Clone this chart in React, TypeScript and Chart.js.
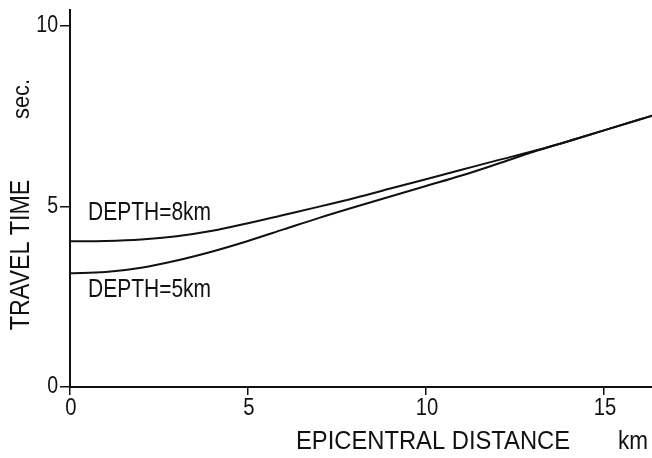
import React, { useEffect, useRef } from "react";
import { Chart, registerables } from "chart.js";

Chart.register(...registerables);

const distances = [0, 1, 2, 3, 4, 5, 6, 7, 8, 9, 10, 11, 12, 13, 14, 15, 16, 16.4];
const depth8Times = [4.03, 4.04, 4.08, 4.17, 4.32, 4.53, 4.76, 4.99, 5.23, 5.49, 5.75, 6.01, 6.27, 6.52, 6.8, 7.1, 7.4, 7.52];
const depth5Times = [3.15, 3.18, 3.3, 3.5, 3.75, 4.04, 4.36, 4.68, 4.98, 5.27, 5.56, 5.85, 6.17, 6.5, 6.8, 7.1, 7.4, 7.52];
const xTicks = [0, 5, 10, 15];
const yTicks = [0, 5, 10];
const xTickLabels = ["0", "5", "10", "15"];
const yTickLabels = ["0", "5", "10"];
const seriesLabels = ["DEPTH=8km", "DEPTH=5km"];

const FONT = "'Liberation Sans', Arial, sans-serif";

function drawText(
  ctx: CanvasRenderingContext2D,
  text: string,
  x: number,
  y: number,
  size: number,
  sx: number,
  align: CanvasTextAlign,
  rotate = false
) {
  ctx.save();
  ctx.translate(x, y);
  if (rotate) ctx.rotate(-Math.PI / 2);
  ctx.scale(sx, 1);
  ctx.font = `${size}px ${FONT}`;
  ctx.fillStyle = "#111";
  ctx.textAlign = align;
  ctx.textBaseline = "middle";
  ctx.fillText(text, 0, 0);
  ctx.restore();
}

const textPlugin = {
  id: "textPlugin",
  afterDraw(chart: any) {
    const ctx = chart.ctx as CanvasRenderingContext2D;
    const xs = chart.scales.x;
    const ys = chart.scales.y;
    xTicks.forEach((v, i) => {
      drawText(ctx, xTickLabels[i], xs.getPixelForValue(v) + 1, 409, 23, 0.88, "center");
    });
    yTicks.forEach((v, i) => {
      drawText(ctx, yTickLabels[i], 58, ys.getPixelForValue(v), 23, 0.85, "right");
    });
    drawText(ctx, seriesLabels[0], 88, 213, 25, 0.84, "left");
    drawText(ctx, seriesLabels[1], 88, 290, 25, 0.84, "left");
    drawText(ctx, "EPICENTRAL DISTANCE", 296, 442, 25, 0.95, "left");
    drawText(ctx, "km", 618, 442, 25, 0.9, "left");
    drawText(ctx, "TRAVEL TIME", 22, 255, 27, 0.86, "center", true);
    drawText(ctx, "sec.", 23, 99, 23, 0.95, "center", true);
  },
};

export default function App() {
  const ref = useRef<HTMLCanvasElement | null>(null);
  useEffect(() => {
    if (!ref.current) return;
    const chart = new Chart(ref.current, {
      type: "line",
      data: {
        labels: distances,
        datasets: [
          {
            label: seriesLabels[0],
            data: distances.map((d, i) => ({ x: d, y: depth8Times[i] })),
            borderColor: "#111",
            borderWidth: 2,
            pointRadius: 0,
            fill: false,
            cubicInterpolationMode: "monotone",
          },
          {
            label: seriesLabels[1],
            data: distances.map((d, i) => ({ x: d, y: depth5Times[i] })),
            borderColor: "#111",
            borderWidth: 2,
            pointRadius: 0,
            fill: false,
            cubicInterpolationMode: "monotone",
          },
        ],
      },
      options: {
        responsive: false,
        animation: false,
        devicePixelRatio: 1,
        layout: { padding: { top: 10, left: 0, right: 0, bottom: 0 } },
        plugins: { legend: { display: false }, tooltip: { enabled: false } },
        scales: {
          x: {
            type: "linear",
            min: 0,
            max: 16.35,
            afterBuildTicks: (s: any) => {
              s.ticks = xTicks.map((v) => ({ value: v }));
            },
            afterFit: (s: any) => {
              s.height = 71;
            },
            ticks: { display: false },
            grid: {
              display: true,
              drawOnChartArea: false,
              drawTicks: true,
              tickLength: 8,
              color: "#111",
              lineWidth: 1.5,
            },
            border: { display: true, color: "#111", width: 2 },
          },
          y: {
            type: "linear",
            min: 0,
            max: 10.43,
            afterBuildTicks: (s: any) => {
              s.ticks = yTicks.map((v) => ({ value: v }));
            },
            afterFit: (s: any) => {
              s.width = 70;
            },
            ticks: { display: false },
            grid: {
              display: true,
              drawOnChartArea: false,
              drawTicks: true,
              tickLength: 10,
              color: "#111",
              lineWidth: 1.5,
            },
            border: { display: true, color: "#111", width: 2 },
          },
        },
      },
      plugins: [textPlugin],
    } as any);
    return () => chart.destroy();
  }, []);
  return (
    <div style={{ position: "absolute", left: 0, top: 0, width: 652, height: 458, background: "#fff" }}>
      <canvas ref={ref} width={652} height={458} style={{ display: "block" }} />
    </div>
  );
}
